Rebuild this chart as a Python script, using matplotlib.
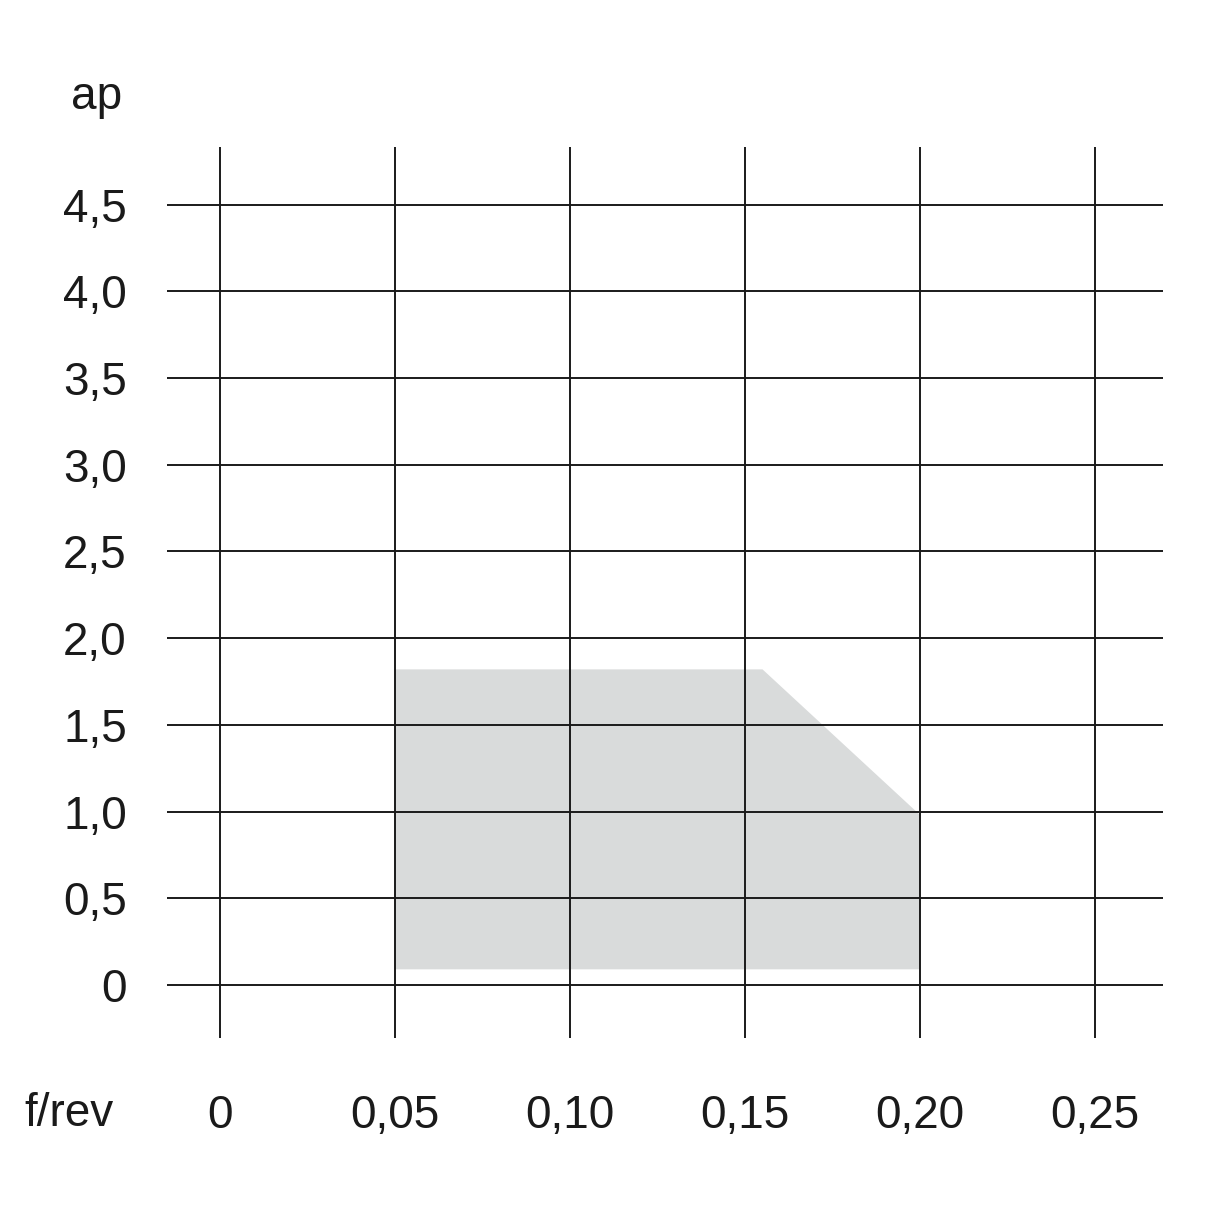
import matplotlib
matplotlib.use("Agg")
from matplotlib import pyplot as plt

plt.rcParams['font.family'] = ['Liberation Sans', 'DejaVu Sans']

# grid values
x_ticks = [0, 0.05, 0.10, 0.15, 0.20, 0.25]
x_labels = ['0', '0,05', '0,10', '0,15', '0,20', '0,25']
y_ticks = [0, 0.5, 1.0, 1.5, 2.0, 2.5, 3.0, 3.5, 4.0, 4.5]
y_labels = ['0', '0,5', '1,0', '1,5', '2,0', '2,5', '3,0', '3,5', '4,0', '4,5']

# application area (f, ap)
area_f = [0.05, 0.05, 0.155, 0.20, 0.20]
area_ap = [0.09, 1.82, 1.82, 0.98, 0.09]

TXT = '#1a1a1a'
LINE = '#1a1a1a'
FS = 33

fig = plt.figure(figsize=(12.14, 12.14), dpi=100)
ax = fig.add_axes([0.1376, 0.145, 0.8204, 0.7339])

ax.fill(area_f, area_ap, color='#d9dbdb', lw=0, zorder=1)

for x in x_ticks:
    ax.axvline(x, color=LINE, lw=1.4, zorder=2)
for y in y_ticks:
    ax.axhline(y, color=LINE, lw=1.4, zorder=2)

ax.set_xlim(-0.0151, 0.2694)
ax.set_ylim(-0.306, 4.833)

ax.set_xticks(x_ticks)
ax.set_xticklabels(x_labels)
ax.set_yticks(y_ticks)
ax.set_yticklabels(y_labels)
ax.tick_params(length=0, labelsize=FS, labelcolor=TXT)
ax.tick_params(axis='y', pad=29)
ax.tick_params(axis='x', pad=40)
for s in ax.spines.values():
    s.set_visible(False)

fig.text(97 / 1214, 1 - 97 / 1214, 'ap', fontsize=FS, color=TXT, ha='center', va='center')
fig.text(69 / 1214, 1 - 1114 / 1214, 'f/rev', fontsize=FS, color=TXT, ha='center', va='center')

fig.savefig('out.png', dpi=100, facecolor='white')
